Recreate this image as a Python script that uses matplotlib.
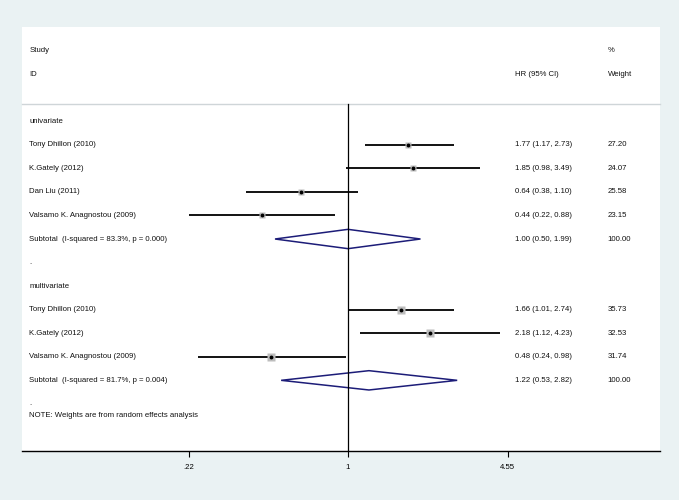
import matplotlib
matplotlib.use("Agg")
import matplotlib.pyplot as plt
import matplotlib.transforms as mtransforms
from matplotlib.patches import Polygon
import numpy as np

plt.rcParams['font.family'] = ['Liberation Sans', 'DejaVu Sans']

# study rows
uni_names = ['Tony Dhillon (2010)', 'K.Gately (2012)', 'Dan Liu (2011)', 'Valsamo K. Anagnostou (2009)']
uni_hr = [1.77, 1.85, 0.64, 0.44]
uni_lo = [1.17, 0.98, 0.38, 0.22]
uni_hi = [2.73, 3.49, 1.10, 0.88]
uni_w = [27.20, 24.07, 25.58, 23.15]
uni_sub = (1.00, 0.50, 1.99)
uni_sub_label = 'Subtotal  (I-squared = 83.3%, p = 0.000)'

multi_names = ['Tony Dhillon (2010)', 'K.Gately (2012)', 'Valsamo K. Anagnostou (2009)']
multi_hr = [1.66, 2.18, 0.48]
multi_lo = [1.01, 1.12, 0.24]
multi_hi = [2.74, 4.23, 0.98]
multi_w = [35.73, 32.53, 31.74]
multi_sub = (1.22, 0.53, 2.82)
multi_sub_label = 'Subtotal  (I-squared = 81.7%, p = 0.004)'

xticks = [0.22, 1, 4.55]
xticklabels = ['.22', '1', '4.55']

bg = '#eaf2f3'
navy = '#1c1c78'
fs = 5.55

fig = plt.figure(figsize=(6.79, 5.0), dpi=100, facecolor=bg)
ax = fig.add_axes([22/679, 49/500, 638/679, 424/500])
ax.set_facecolor('white')
ax.set_xscale('log')
ax.set_xlim(np.exp(-3.096), np.exp(2.963))
ax.set_ylim(14.0, -4.0)

tr = mtransforms.blended_transform_factory(ax.transAxes, ax.transData)
x_lab, x_hr, x_w = 0.0115, 0.773, 0.918


def label(x, y, s):
    ax.text(x, y, s, transform=tr, fontsize=fs, va='center', ha='left', color='#111111')


# header
label(x_lab, -3, 'Study')
label(x_lab, -2, 'ID')
label(x_hr, -2, 'HR (95% CI)')
label(x_w, -3, '%')
label(x_w, -2, 'Weight')
ax.plot([0, 1], [-0.72, -0.72], transform=tr, color='#cfd5d8', lw=1.0, clip_on=False)

# null line
ax.plot([1, 1], [-0.72, 14], color='black', lw=0.9)


def draw_group(y0, title, names, hr, lo, hi, w, sub, sub_label):
    label(x_lab, y0, title)
    for i, n in enumerate(names):
        y = y0 + 1 + i
        label(x_lab, y, n)
        label(x_hr, y, '%.2f (%.2f, %.2f)' % (hr[i], lo[i], hi[i]))
        label(x_w, y, '%.2f' % w[i])
        ax.plot([lo[i], hi[i]], [y, y], color='black', lw=1.3, solid_capstyle='butt')
        ax.plot(hr[i], y, marker='s', ms=w[i] * 0.16, color='#bdbdbd', mec='none')
        ax.plot(hr[i], y, marker='o', ms=2.8, color='black', mec='none')
    y = y0 + 1 + len(names)
    est, l, h = sub
    label(x_lab, y, sub_label)
    label(x_hr, y, '%.2f (%.2f, %.2f)' % (est, l, h))
    label(x_w, y, '100.00')
    d = 0.41
    ax.add_patch(Polygon([[l, y], [est, y - d], [h, y], [est, y + d]], closed=True,
                         facecolor='white', edgecolor=navy, lw=1.1))
    return y


ysub = draw_group(0, 'univariate', uni_names, uni_hr, uni_lo, uni_hi, uni_w, uni_sub, uni_sub_label)
label(x_lab, ysub + 1.0, '.')
ysub = draw_group(ysub + 2, 'multivariate', multi_names, multi_hr, multi_lo, multi_hi, multi_w,
                  multi_sub, multi_sub_label)
label(x_lab, ysub + 1.0, '.')
label(x_lab, ysub + 1.5, 'NOTE: Weights are from random effects analysis')

for s in ['top', 'left', 'right']:
    ax.spines[s].set_visible(False)
ax.spines['bottom'].set_linewidth(1.0)
ax.set_yticks([])
ax.set_xticks(xticks)
ax.set_xticklabels(xticklabels)
ax.xaxis.set_minor_locator(matplotlib.ticker.NullLocator())
ax.tick_params(axis='x', direction='out', length=4.5, width=0.8, labelsize=fs, pad=5)

plt.savefig('out.png', dpi=100, facecolor=bg)
